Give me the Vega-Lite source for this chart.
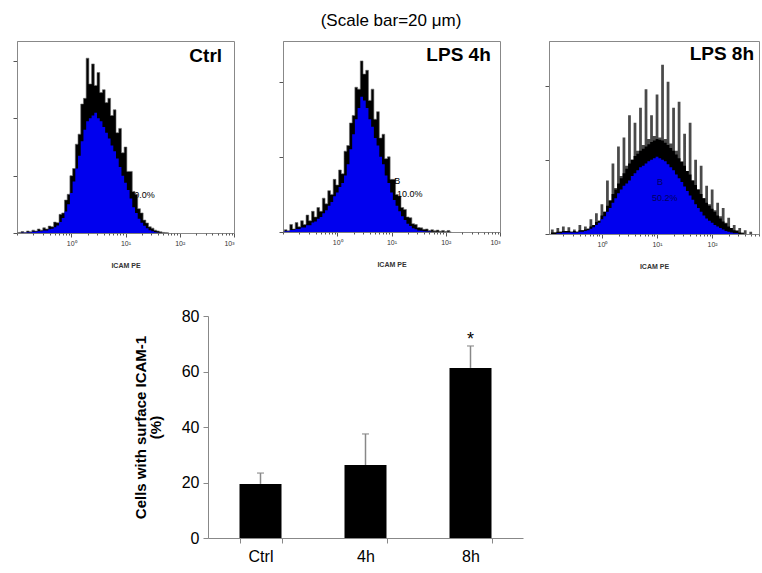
{
  "$schema": "https://vega.github.io/schema/vega-lite/v6.json",
  "padding": {"left": 12, "top": 11, "right": 0, "bottom": 0},
  "title": {"text": "(Scale bar=20 μm)", "fontSize": 17, "fontWeight": "normal", "font": "Liberation Sans", "color": "#000", "anchor": "middle", "offset": 11, "dx": 5},
  "config": {
    "font": "Liberation Sans",
    "view": {"stroke": "#888", "strokeWidth": 1},
    "axis": {"grid": false, "labelFont": "Liberation Sans", "titleFont": "Liberation Sans"}
  },
  "datasets": {
    "ctrl": [
      {"lx": -1.0, "hi": 0, "lo": 0}, {"lx": -0.95, "hi": 2, "lo": 0}, {"lx": -0.9, "hi": 5, "lo": 1}, {"lx": -0.85, "hi": 2, "lo": 1},
      {"lx": -0.8, "hi": 7, "lo": 2}, {"lx": -0.75, "hi": 4, "lo": 2}, {"lx": -0.7, "hi": 10, "lo": 4}, {"lx": -0.65, "hi": 7, "lo": 4},
      {"lx": -0.6, "hi": 14, "lo": 6}, {"lx": -0.55, "hi": 10, "lo": 6}, {"lx": -0.5, "hi": 18, "lo": 9}, {"lx": -0.45, "hi": 14, "lo": 9},
      {"lx": -0.4, "hi": 24, "lo": 13}, {"lx": -0.35, "hi": 22, "lo": 15}, {"lx": -0.3, "hi": 38, "lo": 20}, {"lx": -0.25, "hi": 36, "lo": 26},
      {"lx": -0.2, "hi": 65, "lo": 38}, {"lx": -0.15, "hi": 70, "lo": 52}, {"lx": -0.1, "hi": 115, "lo": 75}, {"lx": -0.05, "hi": 135, "lo": 100},
      {"lx": 0.0, "hi": 200, "lo": 140}, {"lx": 0.05, "hi": 225, "lo": 180}, {"lx": 0.1, "hi": 310, "lo": 225}, {"lx": 0.15, "hi": 345, "lo": 270},
      {"lx": 0.2, "hi": 450, "lo": 320}, {"lx": 0.25, "hi": 470, "lo": 360}, {"lx": 0.3, "hi": 610, "lo": 390}, {"lx": 0.35, "hi": 520, "lo": 400},
      {"lx": 0.4, "hi": 590, "lo": 410}, {"lx": 0.45, "hi": 515, "lo": 420}, {"lx": 0.5, "hi": 560, "lo": 400}, {"lx": 0.55, "hi": 490, "lo": 390},
      {"lx": 0.6, "hi": 500, "lo": 370}, {"lx": 0.65, "hi": 455, "lo": 350}, {"lx": 0.7, "hi": 470, "lo": 330}, {"lx": 0.75, "hi": 410, "lo": 305},
      {"lx": 0.8, "hi": 430, "lo": 285}, {"lx": 0.85, "hi": 350, "lo": 260}, {"lx": 0.9, "hi": 365, "lo": 230}, {"lx": 0.95, "hi": 280, "lo": 200},
      {"lx": 1.0, "hi": 300, "lo": 175}, {"lx": 1.05, "hi": 215, "lo": 150}, {"lx": 1.1, "hi": 215, "lo": 120}, {"lx": 1.15, "hi": 145, "lo": 90},
      {"lx": 1.2, "hi": 135, "lo": 70}, {"lx": 1.25, "hi": 85, "lo": 50}, {"lx": 1.3, "hi": 70, "lo": 36}, {"lx": 1.35, "hi": 45, "lo": 25},
      {"lx": 1.4, "hi": 35, "lo": 17}, {"lx": 1.45, "hi": 22, "lo": 10}, {"lx": 1.5, "hi": 17, "lo": 6}, {"lx": 1.55, "hi": 10, "lo": 3},
      {"lx": 1.6, "hi": 7, "lo": 1}, {"lx": 1.65, "hi": 4, "lo": 0}, {"lx": 1.7, "hi": 2, "lo": 0}, {"lx": 1.75, "hi": 1, "lo": 0}, {"lx": 1.8, "hi": 0, "lo": 0}
    ],
    "h4": [
      {"lx": -1.0, "hi": 0, "lo": 0}, {"lx": -0.95, "hi": 6, "lo": 2}, {"lx": -0.9, "hi": 3, "lo": 2}, {"lx": -0.85, "hi": 20, "lo": 5},
      {"lx": -0.8, "hi": 8, "lo": 5}, {"lx": -0.75, "hi": 25, "lo": 8}, {"lx": -0.7, "hi": 14, "lo": 8}, {"lx": -0.65, "hi": 30, "lo": 12},
      {"lx": -0.6, "hi": 20, "lo": 12}, {"lx": -0.55, "hi": 45, "lo": 18}, {"lx": -0.5, "hi": 30, "lo": 18}, {"lx": -0.45, "hi": 55, "lo": 25},
      {"lx": -0.4, "hi": 40, "lo": 28}, {"lx": -0.35, "hi": 65, "lo": 35}, {"lx": -0.3, "hi": 55, "lo": 40}, {"lx": -0.25, "hi": 90, "lo": 50},
      {"lx": -0.2, "hi": 75, "lo": 58}, {"lx": -0.15, "hi": 110, "lo": 70}, {"lx": -0.1, "hi": 100, "lo": 80}, {"lx": -0.05, "hi": 140, "lo": 95},
      {"lx": 0.0, "hi": 125, "lo": 105}, {"lx": 0.05, "hi": 165, "lo": 120}, {"lx": 0.1, "hi": 155, "lo": 130}, {"lx": 0.15, "hi": 215, "lo": 150},
      {"lx": 0.2, "hi": 230, "lo": 180}, {"lx": 0.25, "hi": 290, "lo": 220}, {"lx": 0.3, "hi": 310, "lo": 260}, {"lx": 0.35, "hi": 385, "lo": 300},
      {"lx": 0.4, "hi": 380, "lo": 330}, {"lx": 0.45, "hi": 455, "lo": 360}, {"lx": 0.5, "hi": 420, "lo": 350}, {"lx": 0.55, "hi": 430, "lo": 330},
      {"lx": 0.6, "hi": 350, "lo": 300}, {"lx": 0.65, "hi": 380, "lo": 280}, {"lx": 0.7, "hi": 300, "lo": 250}, {"lx": 0.75, "hi": 320, "lo": 230},
      {"lx": 0.8, "hi": 250, "lo": 200}, {"lx": 0.85, "hi": 260, "lo": 180}, {"lx": 0.9, "hi": 195, "lo": 150}, {"lx": 0.95, "hi": 200, "lo": 130},
      {"lx": 1.0, "hi": 140, "lo": 105}, {"lx": 1.05, "hi": 140, "lo": 85}, {"lx": 1.1, "hi": 100, "lo": 70}, {"lx": 1.15, "hi": 95, "lo": 55},
      {"lx": 1.2, "hi": 65, "lo": 42}, {"lx": 1.25, "hi": 60, "lo": 32}, {"lx": 1.3, "hi": 40, "lo": 22}, {"lx": 1.35, "hi": 38, "lo": 16},
      {"lx": 1.4, "hi": 22, "lo": 10}, {"lx": 1.45, "hi": 20, "lo": 7}, {"lx": 1.5, "hi": 12, "lo": 4}, {"lx": 1.55, "hi": 11, "lo": 3},
      {"lx": 1.6, "hi": 7, "lo": 2}, {"lx": 1.65, "hi": 8, "lo": 1}, {"lx": 1.7, "hi": 4, "lo": 1}, {"lx": 1.75, "hi": 6, "lo": 0},
      {"lx": 1.8, "hi": 3, "lo": 0}, {"lx": 1.85, "hi": 5, "lo": 0}, {"lx": 1.9, "hi": 2, "lo": 0}, {"lx": 1.95, "hi": 4, "lo": 0},
      {"lx": 2.0, "hi": 1, "lo": 0}, {"lx": 2.05, "hi": 4, "lo": 0}, {"lx": 2.1, "hi": 0, "lo": 0}
    ],
    "h8": [
      {"lx": -0.95, "hi": 0, "mid": 0, "lo": 0}, {"lx": -0.9, "hi": 6, "mid": 2, "lo": 0}, {"lx": -0.85, "hi": 2, "mid": 2, "lo": 0}, {"lx": -0.8, "hi": 8, "mid": 3, "lo": 1},
      {"lx": -0.75, "hi": 3, "mid": 3, "lo": 1}, {"lx": -0.7, "hi": 10, "mid": 4, "lo": 2}, {"lx": -0.65, "hi": 4, "mid": 4, "lo": 2}, {"lx": -0.6, "hi": 9, "mid": 4, "lo": 2},
      {"lx": -0.55, "hi": 3, "mid": 3, "lo": 2}, {"lx": -0.5, "hi": 6, "mid": 4, "lo": 2}, {"lx": -0.45, "hi": 3, "mid": 3, "lo": 2}, {"lx": -0.4, "hi": 12, "mid": 5, "lo": 3},
      {"lx": -0.35, "hi": 5, "mid": 5, "lo": 3}, {"lx": -0.3, "hi": 10, "mid": 6, "lo": 4}, {"lx": -0.25, "hi": 7, "mid": 7, "lo": 5}, {"lx": -0.2, "hi": 20, "mid": 10, "lo": 7},
      {"lx": -0.15, "hi": 12, "mid": 12, "lo": 9}, {"lx": -0.1, "hi": 28, "mid": 16, "lo": 12}, {"lx": -0.05, "hi": 18, "mid": 18, "lo": 15}, {"lx": 0.0, "hi": 40, "mid": 25, "lo": 20},
      {"lx": 0.05, "hi": 30, "mid": 30, "lo": 24}, {"lx": 0.1, "hi": 72, "mid": 38, "lo": 30}, {"lx": 0.15, "hi": 45, "mid": 45, "lo": 35}, {"lx": 0.2, "hi": 95, "mid": 54, "lo": 42},
      {"lx": 0.25, "hi": 62, "mid": 60, "lo": 48}, {"lx": 0.3, "hi": 118, "mid": 68, "lo": 55}, {"lx": 0.35, "hi": 78, "mid": 75, "lo": 60}, {"lx": 0.4, "hi": 130, "mid": 82, "lo": 65},
      {"lx": 0.45, "hi": 92, "mid": 88, "lo": 68}, {"lx": 0.5, "hi": 160, "mid": 95, "lo": 72}, {"lx": 0.55, "hi": 100, "mid": 100, "lo": 78}, {"lx": 0.6, "hi": 150, "mid": 105, "lo": 82},
      {"lx": 0.65, "hi": 112, "mid": 108, "lo": 86}, {"lx": 0.7, "hi": 170, "mid": 112, "lo": 90}, {"lx": 0.75, "hi": 120, "mid": 115, "lo": 92}, {"lx": 0.8, "hi": 195, "mid": 118, "lo": 95},
      {"lx": 0.85, "hi": 128, "mid": 121, "lo": 98}, {"lx": 0.9, "hi": 160, "mid": 124, "lo": 100}, {"lx": 0.95, "hi": 132, "mid": 126, "lo": 102}, {"lx": 1.0, "hi": 188, "mid": 128, "lo": 104},
      {"lx": 1.05, "hi": 130, "mid": 127, "lo": 102}, {"lx": 1.1, "hi": 228, "mid": 126, "lo": 100}, {"lx": 1.15, "hi": 128, "mid": 123, "lo": 98}, {"lx": 1.2, "hi": 205, "mid": 120, "lo": 94},
      {"lx": 1.25, "hi": 122, "mid": 116, "lo": 90}, {"lx": 1.3, "hi": 170, "mid": 112, "lo": 86}, {"lx": 1.35, "hi": 112, "mid": 107, "lo": 80}, {"lx": 1.4, "hi": 178, "mid": 102, "lo": 75},
      {"lx": 1.45, "hi": 98, "mid": 97, "lo": 70}, {"lx": 1.5, "hi": 135, "mid": 92, "lo": 64}, {"lx": 1.55, "hi": 85, "mid": 85, "lo": 58}, {"lx": 1.6, "hi": 150, "mid": 80, "lo": 52},
      {"lx": 1.65, "hi": 72, "mid": 72, "lo": 46}, {"lx": 1.7, "hi": 100, "mid": 66, "lo": 40}, {"lx": 1.75, "hi": 60, "mid": 60, "lo": 35}, {"lx": 1.8, "hi": 92, "mid": 54, "lo": 30},
      {"lx": 1.85, "hi": 48, "mid": 48, "lo": 25}, {"lx": 1.9, "hi": 65, "mid": 42, "lo": 21}, {"lx": 1.95, "hi": 40, "mid": 38, "lo": 18}, {"lx": 2.0, "hi": 60, "mid": 34, "lo": 15},
      {"lx": 2.05, "hi": 32, "mid": 30, "lo": 12}, {"lx": 2.1, "hi": 42, "mid": 25, "lo": 10}, {"lx": 2.15, "hi": 24, "mid": 21, "lo": 8}, {"lx": 2.2, "hi": 35, "mid": 17, "lo": 6},
      {"lx": 2.25, "hi": 15, "mid": 14, "lo": 4}, {"lx": 2.3, "hi": 22, "mid": 10, "lo": 3}, {"lx": 2.35, "hi": 8, "mid": 8, "lo": 2}, {"lx": 2.4, "hi": 12, "mid": 5, "lo": 1},
      {"lx": 2.45, "hi": 5, "mid": 4, "lo": 1}, {"lx": 2.5, "hi": 8, "mid": 2, "lo": 0}, {"lx": 2.55, "hi": 2, "mid": 1, "lo": 0}, {"lx": 2.6, "hi": 5, "mid": 0, "lo": 0},
      {"lx": 2.65, "hi": 0, "mid": 0, "lo": 0}, {"lx": 2.7, "hi": 3, "mid": 0, "lo": 0}, {"lx": 2.75, "hi": 0, "mid": 0, "lo": 0}
    ],
    "bars": [
      {"group": "Ctrl", "pct": 19.5, "upper": 23.4, "sig": ""},
      {"group": "4h", "pct": 26.3, "upper": 37.5, "sig": ""},
      {"group": "8h", "pct": 61.3, "upper": 69.2, "sig": "*"}
    ]
  },
  "spacing": 38,
  "vconcat": [
    {
      "spacing": 43,
      "hconcat": [
        {
          "width": 217, "height": 192,
          "resolve": {"axis": {"x": "independent"}},
          "layer": [
            {"data": {"values": [{"lx": 1.54, "count": 133, "txt": "10.0%"}]}, "mark": {"type": "text", "align": "right", "baseline": "middle", "fontSize": 9, "color": "#000"},
             "encoding": {"x": {"field": "lx", "type": "quantitative", "axis": null}, "y": {"field": "count", "type": "quantitative"}, "text": {"field": "txt"}}},
            {"data": {"name": "ctrl"}, "mark": {"type": "area", "color": "#000", "stroke": "#666", "strokeWidth": 0.6, "interpolate": "step"},
             "encoding": {
               "x": {"field": "lx", "type": "quantitative", "scale": {"domain": [-1, 3], "nice": false, "zero": false},
                 "axis": {"orient": "bottom", "title": "ICAM PE", "titleFontSize": 7, "titleFontWeight": "bold", "titleColor": "#333", "titlePadding": 15,
                   "values": [0, 1, 2, 3],
                   "labelExpr": "datum.value == 0 ? '10⁰' : datum.value == 1 ? '10¹' : datum.value == 2 ? '10²' : '10³'",
                   "labelFontSize": 7, "labelColor": "#333", "labelPadding": 2, "labelFlush": true, "tickSize": 4,
                   "domainColor": "#888", "tickColor": "#555"}},
               "y": {"field": "hi", "type": "quantitative", "scale": {"domain": [0, 670], "nice": false},
                 "axis": {"title": null, "labels": false, "values": [0,100,200,300,400,500,600], "tickSize": 4, "domainColor": "#888", "tickColor": "#555"}}}},
            {"data": {"name": "ctrl"}, "mark": {"type": "area", "color": "#0000ee", "interpolate": "step"},
             "encoding": {"x": {"field": "lx", "type": "quantitative",
                 "axis": {"orient": "bottom", "title": null, "labels": false, "domain": false, "tickSize": 2, "tickColor": "#555",
                   "values": [-1,-0.699,-0.523,-0.398,-0.301,-0.222,-0.155,-0.097,-0.046,0.301,0.477,0.602,0.699,0.778,0.845,0.903,0.954,1.301,1.477,1.602,1.699,1.778,1.845,1.903,1.954,2.301,2.477,2.602,2.699,2.778,2.845,2.903,2.954]}},
               "y": {"field": "lo", "type": "quantitative"}}},
            {"mark": {"type": "rule", "color": "#777", "strokeWidth": 1}, "encoding": {"x": {"datum": 0.475, "type": "quantitative", "axis": null}}},
            {"mark": {"type": "rule", "color": "#777", "strokeWidth": 1}, "encoding": {"x": {"datum": 0.94, "type": "quantitative", "axis": null}, "x2": {"datum": 3}, "y": {"datum": 101, "type": "quantitative"}}},
            {"mark": {"type": "rule", "color": "#777", "strokeWidth": 1}, "encoding": {"x": {"datum": 0.94, "type": "quantitative", "axis": null}, "y": {"datum": 90, "type": "quantitative"}, "y2": {"datum": 112}}},
            {"data": {"values": [{"lx": 2.78, "count": 618, "txt": "Ctrl"}]}, "mark": {"type": "text", "align": "right", "baseline": "middle", "fontSize": 19, "fontWeight": "bold", "color": "#000"},
             "encoding": {"x": {"field": "lx", "type": "quantitative", "axis": null}, "y": {"field": "count", "type": "quantitative"}, "text": {"field": "txt"}}}
          ]
        },
        {
          "width": 217, "height": 191,
          "resolve": {"axis": {"x": "independent"}},
          "layer": [
            {"data": {"name": "h4"}, "mark": {"type": "area", "color": "#000", "stroke": "#666", "strokeWidth": 0.6, "interpolate": "step"},
             "encoding": {
               "x": {"field": "lx", "type": "quantitative", "scale": {"domain": [-1, 3], "nice": false, "zero": false},
                 "axis": {"orient": "bottom", "title": "ICAM PE", "titleFontSize": 7, "titleFontWeight": "bold", "titleColor": "#333", "titlePadding": 15,
                   "values": [0, 1, 2, 3],
                   "labelExpr": "datum.value == 0 ? '10⁰' : datum.value == 1 ? '10¹' : datum.value == 2 ? '10²' : '10³'",
                   "labelFontSize": 7, "labelColor": "#333", "labelPadding": 2, "labelFlush": true, "tickSize": 4,
                   "domainColor": "#888", "tickColor": "#555"}},
               "y": {"field": "hi", "type": "quantitative", "scale": {"domain": [0, 508], "nice": false},
                 "axis": {"title": null, "labels": false, "values": [0,100,200,300,400,500], "tickSize": 4, "domainColor": "#888", "tickColor": "#555"}}}},
            {"data": {"name": "h4"}, "mark": {"type": "area", "color": "#0000ee", "interpolate": "step"},
             "encoding": {"x": {"field": "lx", "type": "quantitative",
                 "axis": {"orient": "bottom", "title": null, "labels": false, "domain": false, "tickSize": 2, "tickColor": "#555",
                   "values": [-1,-0.699,-0.523,-0.398,-0.301,-0.222,-0.155,-0.097,-0.046,0.301,0.477,0.602,0.699,0.778,0.845,0.903,0.954,1.301,1.477,1.602,1.699,1.778,1.845,1.903,1.954,2.301,2.477,2.602,2.699,2.778,2.845,2.903,2.954]}},
               "y": {"field": "lo", "type": "quantitative"}}},
            {"mark": {"type": "rule", "color": "#777", "strokeWidth": 1}, "encoding": {"x": {"datum": 0.44, "type": "quantitative", "axis": null}}},
            {"mark": {"type": "rule", "color": "#777", "strokeWidth": 1}, "encoding": {"x": {"datum": 1.27, "type": "quantitative", "axis": null}, "x2": {"datum": 3}, "y": {"datum": 74, "type": "quantitative"}}},
            {"data": {"values": [{"lx": 1.05, "count": 136, "txt": "B"}, {"lx": 1.1, "count": 101, "txt": "10.0%"}]},
             "mark": {"type": "text", "align": "left", "baseline": "middle", "fontSize": 9, "color": "#000"},
             "encoding": {"x": {"field": "lx", "type": "quantitative", "axis": null}, "y": {"field": "count", "type": "quantitative"}, "text": {"field": "txt"}}},
            {"data": {"values": [{"lx": 2.83, "count": 471, "txt": "LPS 4h"}]}, "mark": {"type": "text", "align": "right", "baseline": "middle", "fontSize": 19, "fontWeight": "bold", "color": "#000"},
             "encoding": {"x": {"field": "lx", "type": "quantitative", "axis": null}, "y": {"field": "count", "type": "quantitative"}, "text": {"field": "txt"}}}
          ]
        },
        {
          "width": 210, "height": 193,
          "resolve": {"axis": {"x": "independent"}},
          "layer": [
            {"data": {"name": "h8"}, "mark": {"type": "area", "color": "#4a4a4a", "interpolate": "step"},
             "encoding": {
               "x": {"field": "lx", "type": "quantitative", "scale": {"domain": [-0.96, 2.85], "nice": false, "zero": false},
                 "axis": {"orient": "bottom", "title": "ICAM PE", "titleFontSize": 7, "titleFontWeight": "bold", "titleColor": "#333", "titlePadding": 15,
                   "values": [0, 1, 2],
                   "labelExpr": "datum.value == 0 ? '10⁰' : datum.value == 1 ? '10¹' : '10²'",
                   "labelFontSize": 7, "labelColor": "#333", "labelPadding": 2, "labelFlush": true, "tickSize": 4,
                   "domainColor": "#888", "tickColor": "#555"}},
               "y": {"field": "hi", "type": "quantitative", "scale": {"domain": [0, 260], "nice": false},
                 "axis": {"title": null, "labels": false, "values": [0,100,200], "tickSize": 4, "domainColor": "#888", "tickColor": "#555"}}}},
            {"data": {"name": "h8"}, "mark": {"type": "area", "color": "#000", "interpolate": "step"},
             "encoding": {"x": {"field": "lx", "type": "quantitative", "axis": null}, "y": {"field": "mid", "type": "quantitative"}}},
            {"data": {"name": "h8"}, "mark": {"type": "area", "color": "#0000ee", "interpolate": "step"},
             "encoding": {"x": {"field": "lx", "type": "quantitative",
                 "axis": {"orient": "bottom", "title": null, "labels": false, "domain": false, "tickSize": 2, "tickColor": "#555",
                   "values": [-0.699,-0.523,-0.398,-0.301,-0.222,-0.155,-0.097,-0.046,0.301,0.477,0.602,0.699,0.778,0.845,0.903,0.954,1.301,1.477,1.602,1.699,1.778,1.845,1.903,1.954,2.301,2.477,2.602,2.699,2.778,2.845]}},
               "y": {"field": "lo", "type": "quantitative"}}},
            {"mark": {"type": "rule", "color": "#777", "strokeWidth": 1}, "encoding": {"x": {"datum": 1.09, "type": "quantitative", "axis": null}}},
            {"mark": {"type": "rule", "color": "#777", "strokeWidth": 1}, "encoding": {"x": {"datum": 0.93, "type": "quantitative", "axis": null}, "x2": {"datum": 2.85}, "y": {"datum": 39, "type": "quantitative"}}},
            {"mark": {"type": "rule", "color": "#777", "strokeWidth": 1}, "encoding": {"x": {"datum": 0.93, "type": "quantitative", "axis": null}, "y": {"datum": 34, "type": "quantitative"}, "y2": {"datum": 45}}},
            {"data": {"values": [{"lx": 1.0, "count": 70, "txt": "B"}, {"lx": 0.91, "count": 48.5, "txt": "50.2%"}]},
             "mark": {"type": "text", "align": "left", "baseline": "middle", "fontSize": 9, "color": "#000060"},
             "encoding": {"x": {"field": "lx", "type": "quantitative", "axis": null}, "y": {"field": "count", "type": "quantitative"}, "text": {"field": "txt"}}},
            {"data": {"values": [{"lx": 2.76, "count": 242, "txt": "LPS 8h"}]}, "mark": {"type": "text", "align": "right", "baseline": "middle", "fontSize": 19, "fontWeight": "bold", "color": "#000"},
             "encoding": {"x": {"field": "lx", "type": "quantitative", "axis": null}, "y": {"field": "count", "type": "quantitative"}, "text": {"field": "txt"}}}
          ]
        }
      ]
    },
    {
      "spacing": 10,
      "hconcat": [
        {"width": 106, "height": 10, "view": {"stroke": null}, "data": {"values": [{"k": 1}]}, "mark": {"type": "point", "opacity": 0}, "encoding": {}},
        {
          "width": 315, "height": 222,
          "view": {"stroke": null},
          "data": {"name": "bars"},
          "encoding": {
            "x": {"field": "group", "type": "nominal", "sort": null, "scale": {"paddingInner": 0.6, "paddingOuter": 0.3},
              "axis": {"title": null, "labelAngle": 0, "labelFontSize": 16, "labelColor": "#000", "domainColor": "#888", "tickColor": "#888", "tickBand": "extent", "tickSize": 5, "labelPadding": 5}}
          },
          "layer": [
            {"mark": {"type": "rule", "color": "#888", "strokeWidth": 1.5},
             "encoding": {"y": {"field": "pct", "type": "quantitative", "scale": {"domain": [0, 80], "nice": false},
               "axis": {"title": ["Cells with surface ICAM-1", "(%)"], "titleFontSize": 15, "titleFontWeight": "bold", "titleColor": "#000", "titleLineHeight": 15, "titlePadding": 18,
                 "values": [0, 20, 40, 60, 80], "labelFontSize": 16, "labelColor": "#000", "labelPadding": 4, "tickSize": 5, "tickColor": "#888", "domainColor": "#888"}},
               "y2": {"field": "upper"}}},
            {"mark": {"type": "tick", "color": "#888", "thickness": 1.5, "size": 7},
             "encoding": {"y": {"field": "upper", "type": "quantitative"}}},
            {"mark": {"type": "bar", "color": "#000"},
             "encoding": {"y": {"field": "pct", "type": "quantitative"}}},
            {"mark": {"type": "text", "fontSize": 18, "baseline": "alphabetic", "dy": -1, "color": "#000"},
             "encoding": {"y": {"field": "upper", "type": "quantitative"}, "text": {"field": "sig"}}}
          ]
        }
      ]
    }
  ]
}
